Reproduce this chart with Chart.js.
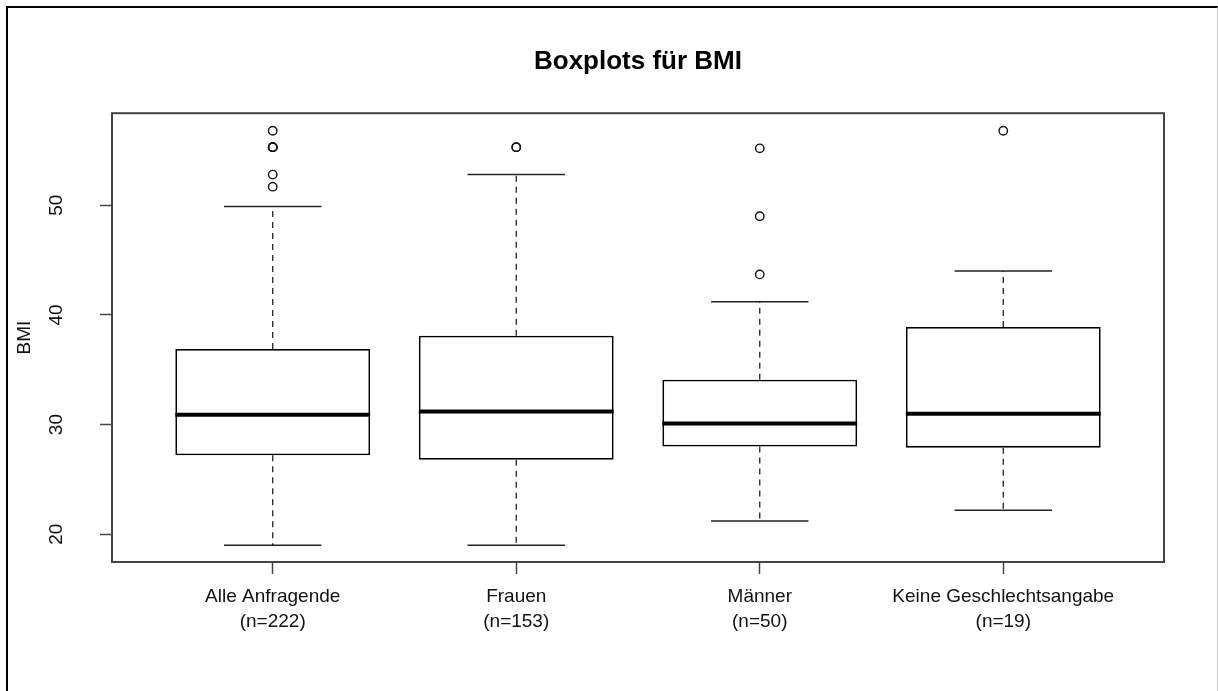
<!DOCTYPE html>
<html>
<head>
<meta charset="utf-8">
<title>Boxplots für BMI</title>
<script src="https://cdn.jsdelivr.net/npm/chart.js@4.4.1/dist/chart.umd.min.js"></script>
<style>
  html, body { margin: 0; padding: 0; background: #fff; overflow: hidden; }
  #frame {
    position: absolute; left: 6px; top: 6px; width: 1209px; height: 720px;
    border-left: 2px solid #000; border-top: 2px solid #000; border-right: 1px solid #c8c8c8;
  }
  #chart { position: absolute; left: 0; top: 0; }
</style>
</head>
<body>
<div id="frame"></div>
<canvas id="chart" width="1218" height="691"></canvas>
<script>
// values
const categories = ['Alle Anfragende', 'Frauen', 'Männer', 'Keine Geschlechtsangabe'];
const counts = ['(n=222)', '(n=153)', '(n=50)', '(n=19)'];
const lowerWhisker = [19.0, 19.0, 21.2, 22.2];
const q1 = [27.2, 26.8, 28.0, 27.9];
const medians = [30.9, 31.2, 30.1, 31.0];
const q3 = [36.9, 38.1, 34.1, 38.9];
const upperWhisker = [49.9, 52.8, 41.2, 44.0];
const outliers = [
  [56.8, 55.3, 55.3, 55.3, 52.8, 51.7],
  [55.3, 55.3],
  [55.2, 49.0, 43.7],
  [56.8]
];
const yTicks = [20, 30, 40, 50];

const positions = categories.map((c, i) => i + 1);
const fontFamily = '"Liberation Sans", Arial, sans-serif';

function strokeLine(ctx, x1, y1, x2, y2) {
  ctx.beginPath();
  ctx.moveTo(x1, y1);
  ctx.lineTo(x2, y2);
  ctx.stroke();
}

// whiskers, caps, medians and the plot box
const boxParts = {
  id: 'boxParts',
  afterDatasetsDraw(chart) {
    const { ctx, chartArea, scales: { x, y } } = chart;
    ctx.save();
    positions.forEach((pos, i) => {
      const cx = x.getPixelForValue(pos);
      const halfBox = (x.getPixelForValue(pos + 0.4) - x.getPixelForValue(pos - 0.4)) / 2;
      const halfCap = halfBox / 2;

      ctx.strokeStyle = '#222';
      ctx.lineWidth = 1.3;
      ctx.setLineDash([6, 5]);
      strokeLine(ctx, cx, y.getPixelForValue(q3[i]), cx, y.getPixelForValue(upperWhisker[i]));
      strokeLine(ctx, cx, y.getPixelForValue(q1[i]), cx, y.getPixelForValue(lowerWhisker[i]));

      ctx.setLineDash([]);
      ctx.lineWidth = 1.5;
      const yHi = y.getPixelForValue(upperWhisker[i]);
      const yLo = y.getPixelForValue(lowerWhisker[i]);
      strokeLine(ctx, cx - halfCap, yHi, cx + halfCap, yHi);
      strokeLine(ctx, cx - halfCap, yLo, cx + halfCap, yLo);

      ctx.strokeStyle = '#000';
      ctx.lineWidth = 4;
      const ym = y.getPixelForValue(medians[i]);
      strokeLine(ctx, cx - halfBox, ym, cx + halfBox, ym);
    });
    ctx.strokeStyle = '#444';
    ctx.lineWidth = 2;
    ctx.strokeRect(chartArea.left, chartArea.top, chartArea.width, chartArea.height);
    ctx.restore();
  }
};

new Chart(document.getElementById('chart'), {
  type: 'bar',
  data: {
    datasets: [
      {
        type: 'bar',
        label: 'Box',
        data: positions.map((x, i) => ({ x: x, y: [q1[i], q3[i]] })),
        backgroundColor: '#fff',
        borderColor: '#000',
        borderWidth: 1.8,
        borderSkipped: false,
        barPercentage: 0.8,
        categoryPercentage: 1,
        order: 2
      },
      {
        type: 'scatter',
        label: 'Ausreißer',
        data: outliers.flatMap((vals, i) => vals.map(v => ({ x: positions[i], y: v }))),
        pointStyle: 'circle',
        pointRadius: 4.2,
        pointBorderWidth: 1.4,
        pointBackgroundColor: 'rgba(255,255,255,0)',
        pointBorderColor: '#111',
        order: 1
      }
    ]
  },
  options: {
    responsive: false,
    animation: false,
    layout: { padding: { top: 46, right: 54, left: 0, bottom: 0 } },
    plugins: {
      legend: { display: false },
      tooltip: { enabled: false },
      title: {
        display: true,
        fullSize: false,
        text: 'Boxplots für BMI',
        color: '#000',
        font: { family: fontFamily, size: 26, weight: 'bold', lineHeight: 1.2 },
        padding: { top: 0, bottom: 36 }
      }
    },
    scales: {
      x: {
        type: 'linear',
        min: 0.34,
        max: 4.66,
        offset: false,
        afterBuildTicks: s => { s.ticks = positions.map(v => ({ value: v })); },
        afterFit: s => { s.height = 129; },
        ticks: {
          callback: (v, i) => [categories[i], counts[i]],
          color: '#111',
          font: { family: fontFamily, size: 19, lineHeight: 1.32 },
          padding: 10,
          minRotation: 0,
          maxRotation: 0,
          autoSkip: false
        },
        grid: { offset: false, drawOnChartArea: false, drawTicks: true, tickLength: 12, tickColor: '#444', tickWidth: 1.5 },
        border: { display: false }
      },
      y: {
        min: 17.47,
        max: 58.4,
        afterBuildTicks: s => { s.ticks = yTicks.map(v => ({ value: v })); },
        afterFit: s => { s.width = 112; },
        ticks: {
          minRotation: 90,
          maxRotation: 90,
          crossAlign: 'center',
          padding: 33,
          color: '#111',
          font: { family: fontFamily, size: 19 }
        },
        grid: { drawOnChartArea: false, drawTicks: true, tickLength: 12, tickColor: '#444', tickWidth: 1.5 },
        border: { display: false },
        title: {
          display: true,
          text: 'BMI',
          color: '#111',
          font: { family: fontFamily, size: 19, lineHeight: 1.2 },
          padding: { top: 13, bottom: 0 }
        }
      }
    }
  },
  plugins: [boxParts]
});
</script>
</body>
</html>
